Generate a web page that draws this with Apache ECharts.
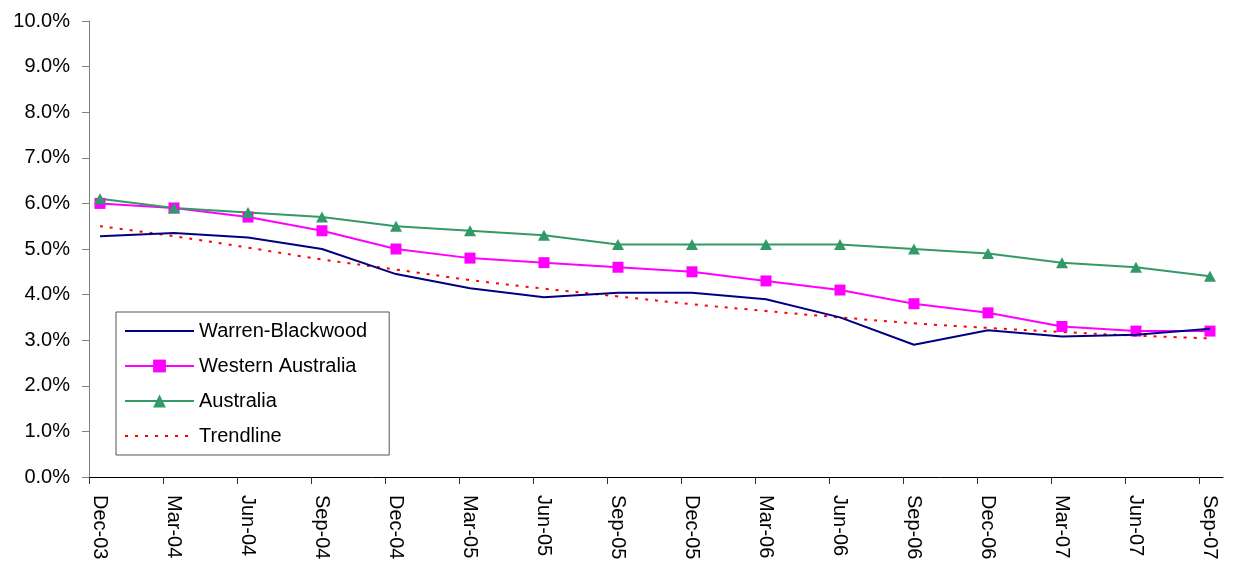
<!DOCTYPE html>
<html>
<head>
<meta charset="utf-8">
<script src="https://cdn.jsdelivr.net/npm/echarts@6/dist/echarts.min.js"></script>
<style>
html,body{margin:0;padding:0;background:#fff;}
#chart{width:1239px;height:566px;}
</style>
</head>
<body>
<div id="chart"></div>
<script>
const categories = ["Dec-03","Mar-04","Jun-04","Sep-04","Dec-04","Mar-05","Jun-05","Sep-05","Dec-05","Mar-06","Jun-06","Sep-06","Dec-06","Mar-07","Jun-07","Sep-07"];
const warrenBlackwood = [5.28,5.35,5.25,5.0,4.45,4.14,3.94,4.04,4.04,3.9,3.5,2.9,3.22,3.08,3.12,3.25];
const westernAustralia = [6.0,5.9,5.7,5.4,5.0,4.8,4.7,4.6,4.5,4.3,4.1,3.8,3.6,3.3,3.2,3.2];
const australia = [6.1,5.9,5.8,5.7,5.5,5.4,5.3,5.1,5.1,5.1,5.1,5.0,4.9,4.7,4.6,4.4];
const trendline = [5.5,5.28,5.03,4.77,4.55,4.32,4.13,3.96,3.79,3.64,3.5,3.37,3.27,3.18,3.1,3.04];
const yTicks = [0,1,2,3,4,5,6,7,8,9,10];

const tickShift = 0.1486;
const toPairs = arr => arr.map((v, i) => [i, v]);
const idx = categories.map((c, i) => i);
const FONT = 'Liberation Sans, Arial, sans-serif';

const chart = echarts.init(document.getElementById('chart'));
chart.setOption({
  animation: false,
  backgroundColor: '#ffffff',
  grid: {left: 89, right: 16, top: 21, bottom: 89, containLabel: false},
  legend: {
    orient: 'vertical',
    left: 116, top: 312,
    padding: [9, 22, 9, 8],
    itemWidth: 69, itemHeight: 16, itemGap: 15,
    backgroundColor: '#ffffff',
    borderColor: '#555555', borderWidth: 1, borderRadius: 0,
    textStyle: {fontFamily: FONT, fontSize: 20, color: '#000', lineHeight: 20},
    data: [
      {name: 'Warren-Blackwood', itemStyle: {opacity: 0}},
      'Western Australia',
      'Australia',
      {name: 'Trendline', itemStyle: {opacity: 0}}
    ]
  },
  xAxis: {
    type: 'value',
    min: -tickShift, max: 15.176,
    splitLine: {show: false},
    axisLine: {show: true, onZero: false, lineStyle: {color: '#000', width: 1}},
    axisTick: {show: true, length: 7, customValues: idx.map(i => i - tickShift), lineStyle: {color: '#333'}},
    axisLabel: {
      show: true, rotate: -90, margin: 18,
      customValues: idx,
      formatter: v => categories[Math.round(v)],
      fontFamily: FONT, fontSize: 20, color: '#000'
    }
  },
  yAxis: {
    type: 'value', min: 0, max: 10, interval: 1,
    splitLine: {show: false},
    axisLine: {show: true, onZero: false, lineStyle: {color: '#808080', width: 1}},
    axisTick: {show: true, length: 7, lineStyle: {color: '#808080'}},
    axisLabel: {
      margin: 19, fontFamily: FONT, fontSize: 20, color: '#000',
      formatter: v => yTicks.includes(v) ? v.toFixed(1) + '%' : ''
    }
  },
  series: [
    {
      name: 'Warren-Blackwood', type: 'line', data: toPairs(warrenBlackwood),
      symbol: 'none', lineStyle: {color: '#000080', width: 2}, itemStyle: {color: '#000080'}, z: 4
    },
    {
      name: 'Western Australia', type: 'line', data: toPairs(westernAustralia),
      symbol: 'rect', symbolSize: 11,
      lineStyle: {color: '#FF00FF', width: 2}, itemStyle: {color: '#FF00FF'}, z: 3
    },
    {
      name: 'Australia', type: 'line', data: toPairs(australia),
      symbol: 'triangle', symbolSize: [12, 11],
      lineStyle: {color: '#339966', width: 2}, itemStyle: {color: '#339966'}, z: 3
    },
    {
      name: 'Trendline', type: 'line', data: toPairs(trendline),
      symbol: 'none', smooth: 0.4,
      lineStyle: {color: '#FF0000', width: 2, type: [3, 7]}, itemStyle: {color: '#FF0000'}, z: 2
    }
  ]
});
</script>
</body>
</html>
